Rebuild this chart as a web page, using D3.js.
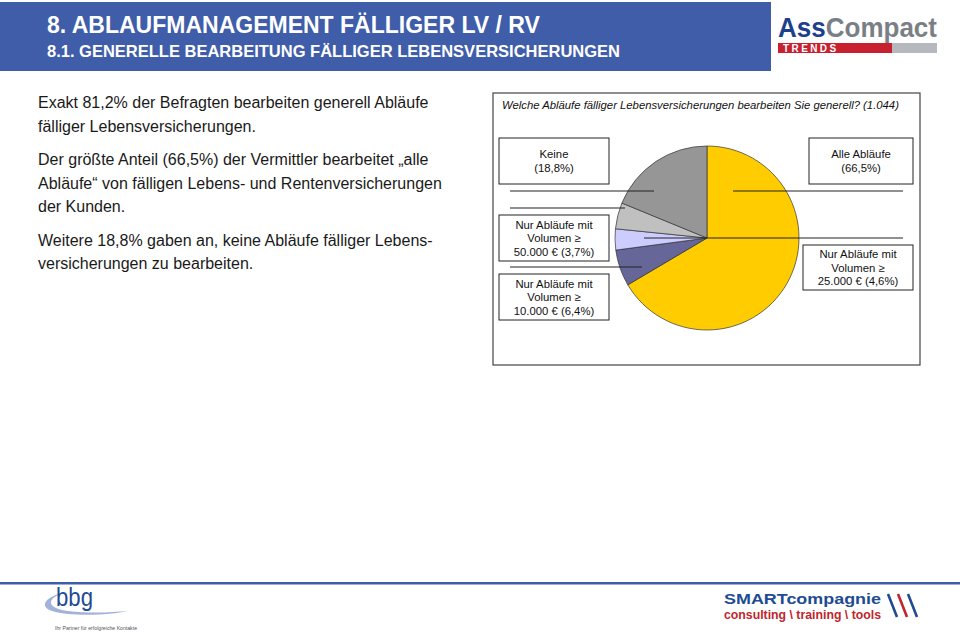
<!DOCTYPE html>
<html><head><meta charset="utf-8">
<script src="https://cdn.jsdelivr.net/npm/d3@7"></script>
<style>body{margin:0;background:#fff}svg{display:block;font-family:"Liberation Sans",Arial,Helvetica,sans-serif}</style>
</head><body>
<script>
// ---- data ----
const categories = ["Alle Abläufe", "Nur Abläufe mit Volumen ≥ 10.000 €", "Nur Abläufe mit Volumen ≥ 50.000 €", "Nur Abläufe mit Volumen ≥ 25.000 €", "Keine"];
const values = [66.5, 6.4, 3.7, 4.6, 18.8];
const colors = ["#FFCC00", "#666699", "#CCCCFF", "#C0C0C0", "#969696"];
const labelLines = [
  ["Keine", "(18,8%)"],
  ["Nur Abläufe mit", "Volumen ≥", "50.000 € (3,7%)"],
  ["Nur Abläufe mit", "Volumen ≥", "10.000 € (6,4%)"],
  ["Alle Abläufe", "(66,5%)"],
  ["Nur Abläufe mit", "Volumen ≥", "25.000 € (4,6%)"]
];
const headerTitle = "8. ABLAUFMANAGEMENT FÄLLIGER LV / RV";
const headerSub = "8.1. GENERELLE BEARBEITUNG FÄLLIGER LEBENSVERSICHERUNGEN";
const chartTitle = "Welche Abläufe fälliger Lebensversicherungen bearbeiten Sie generell? (1.044)";
const paragraphs = [
  ["Exakt 81,2% der Befragten bearbeiten generell Abläufe", "fälliger Lebensversicherungen."],
  ["Der größte Anteil (66,5%) der Vermittler bearbeitet „alle", "Abläufe“ von fälligen Lebens- und Rentenversicherungen", "der Kunden."],
  ["Weitere 18,8% gaben an, keine Abläufe fälliger Lebens-", "versicherungen zu bearbeiten."]
];

const W = 960, H = 640;
const svg = d3.select("body").append("svg").attr("width", W).attr("height", H);

// header band
svg.append("rect").attr("x", 0).attr("y", 2).attr("width", 771).attr("height", 69).attr("fill", "#3F5DA8");
svg.append("text").attr("x", 47).attr("y", 33).attr("fill", "#fff").attr("font-weight", "bold")
  .attr("font-size", 23).text(headerTitle);
svg.append("text").attr("x", 47).attr("y", 57).attr("fill", "#fff").attr("font-weight", "bold")
  .attr("font-size", 16.5).text(headerSub);

// AssCompact logo
const logo = svg.append("g");
logo.append("rect").attr("x", 778).attr("y", 43).attr("width", 114).attr("height", 10).attr("fill", "#C8202E");
logo.append("rect").attr("x", 892).attr("y", 43).attr("width", 45).attr("height", 10).attr("fill", "#B5B8BC");
logo.append("text").attr("x", 778).attr("y", 37).attr("font-size", 27).attr("font-weight", "bold")
  .attr("textLength", 159).attr("lengthAdjust", "spacingAndGlyphs")
  .html('<tspan fill="#1D3F8C">Ass</tspan><tspan fill="#7A7F86">Compact</tspan>');
logo.append("text").attr("x", 783).attr("y", 52).attr("font-size", 10).attr("font-weight", "bold")
  .attr("fill", "#fff").attr("letter-spacing", 2.4).text("TRENDS");

// left paragraphs
let py = 108;
paragraphs.forEach((p) => {
  p.forEach((line) => {
    svg.append("text").attr("x", 38).attr("y", py).attr("font-size", 16).attr("fill", "#1a1a1a").text(line);
    py += 23.5;
  });
  py += 10;
});

// chart frame
const frame = {x: 493, y: 93, w: 427, h: 272};
svg.append("rect").attr("x", frame.x).attr("y", frame.y).attr("width", frame.w).attr("height", frame.h)
  .attr("fill", "#fff").attr("stroke", "#444").attr("stroke-width", 1.2);
svg.append("text").attr("x", 502).attr("y", 109).attr("font-size", 11.3).attr("font-style", "italic")
  .attr("fill", "#111").text(chartTitle);

// pie
const cx = 707, cy = 238, R = 92;
const pie = d3.pie().sort(null).startAngle(0).endAngle(2 * Math.PI);
const arcs = pie(values);
const arc = d3.arc().innerRadius(0).outerRadius(R);
const g = svg.append("g").attr("transform", `translate(${cx},${cy})`);
g.selectAll("path").data(arcs).join("path").attr("d", arc)
  .attr("fill", (d, i) => colors[i]).attr("stroke", "#333").attr("stroke-width", 0.7);

// leader lines (horizontal), positioned relative to pie geometry
const leaders = [
  {y: cy - 47, x1: 510, x2: cx - 53},
  {y: cy - 30, x1: 510, x2: cx - 82},
  {y: cy, x1: cx - 63, x2: 903},
  {y: cy + 29, x1: 510, x2: cx - 65},
  {y: cy - 47, x1: cx + 26, x2: 903}
];
svg.selectAll("line.leader").data(leaders).join("line").attr("class", "leader")
  .attr("x1", d => d.x1).attr("x2", d => d.x2).attr("y1", d => d.y).attr("y2", d => d.y)
  .attr("stroke", "#222").attr("stroke-width", 1.1);

// label boxes
const boxes = [
  {x: 499, y: 138, w: 110, h: 46},
  {x: 499, y: 215, w: 110, h: 46},
  {x: 499, y: 274, w: 110, h: 46},
  {x: 809, y: 138, w: 104, h: 46},
  {x: 803, y: 245, w: 110, h: 45}
];
boxes.forEach((b, i) => {
  svg.append("rect").attr("x", b.x).attr("y", b.y).attr("width", b.w).attr("height", b.h)
    .attr("fill", "#fff").attr("stroke", "#222").attr("stroke-width", 1);
  const lines = labelLines[i];
  const lh = 13.5;
  const y0 = b.y + b.h / 2 - (lines.length - 1) * lh / 2 + 4;
  lines.forEach((t, j) => {
    svg.append("text").attr("x", b.x + b.w / 2).attr("y", y0 + j * lh).attr("text-anchor", "middle")
      .attr("font-size", 11.3).attr("fill", "#111").text(t);
  });
});

// footer line
svg.append("rect").attr("x", 0).attr("y", 582).attr("width", W).attr("height", 2.5).attr("fill", "#3F5DA8");

// bbg logo
svg.append("path")
  .attr("d", "M66,592 C46,596 38,606 52,611 C72,617 110,615 128,611 C108,613 70,614 56,608 C46,603 52,596 66,592 Z")
  .attr("fill", "#A3B2D8");
svg.append("text").attr("x", 56).attr("y", 606).attr("font-size", 25).attr("fill", "#1E4B93")
  .attr("textLength", 37).attr("lengthAdjust", "spacingAndGlyphs").text("bbg");
svg.append("text").attr("x", 55).attr("y", 630).attr("font-size", 5.2).attr("fill", "#555")
  .attr("textLength", 82).attr("lengthAdjust", "spacingAndGlyphs")
  .text("Ihr Partner für erfolgreiche Kontakte");

// SMARTcompagnie logo
svg.append("text").attr("x", 724).attr("y", 604).attr("font-size", 15).attr("font-weight", "bold")
  .attr("fill", "#1E4B93").attr("textLength", 157).attr("lengthAdjust", "spacingAndGlyphs").text("SMARTcompagnie");
svg.append("text").attr("x", 724).attr("y", 619).attr("font-size", 12.5).attr("font-weight", "bold")
  .attr("fill", "#C0262E").attr("textLength", 157).attr("lengthAdjust", "spacingAndGlyphs").text("consulting \\ training \\ tools");
[["#1E4B93", 888], ["#C0262E", 898], ["#1E4B93", 908]].forEach(([c, x]) => {
  svg.append("line").attr("x1", x).attr("y1", 594).attr("x2", x + 9).attr("y2", 617)
    .attr("stroke", c).attr("stroke-width", 2.6);
});
</script>
</body></html>
